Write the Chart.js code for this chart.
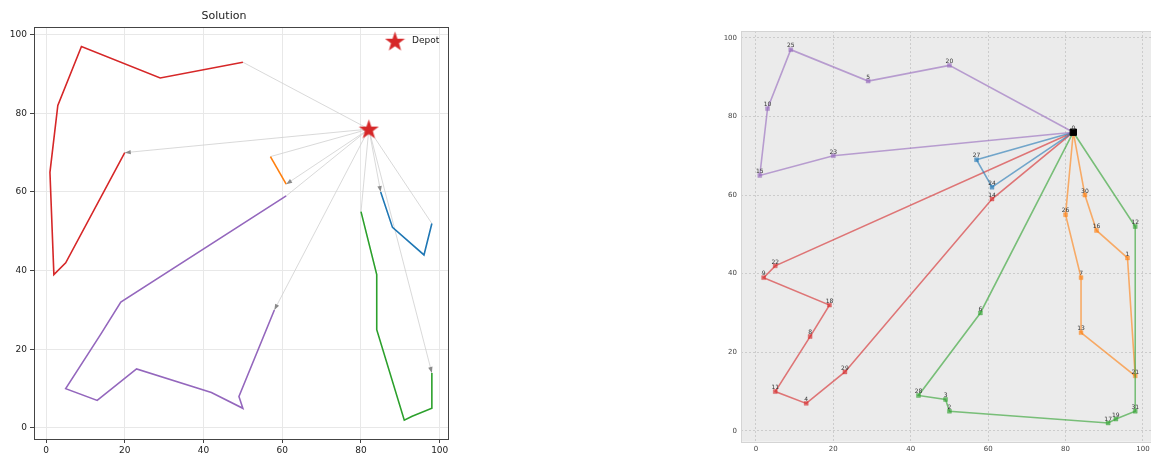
<!DOCTYPE html>
<html>
<head>
<meta charset="utf-8">
<script src="https://cdn.jsdelivr.net/npm/chart.js@4.4.1/dist/chart.umd.min.js"></script>
<style>
html, body { margin: 0; padding: 0; background: #fff; overflow: hidden; width: 1151px; height: 453px; }
#left { position: absolute; left: 0; top: 0; }
#right { position: absolute; left: 700px; top: 0; }
</style>
</head>
<body>
<canvas id="left" width="460" height="453"></canvas>
<canvas id="right" width="470" height="453"></canvas>
<script>
// node coordinates, index = node id (0 is the depot)
const nodeX = [82, 96, 50, 49, 13, 29, 58, 84, 14, 2, 3, 5, 98, 84, 61, 1, 88, 91, 19, 93, 50, 98, 5, 20, 61, 9, 80, 57, 42, 23, 85, 98];
const nodeY = [76, 44, 5, 8, 7, 89, 30, 39, 24, 39, 82, 10, 52, 25, 59, 65, 51, 2, 32, 3, 93, 14, 42, 70, 62, 97, 55, 69, 9, 15, 60, 5];
const depot = 0;

// left plot "Solution" routes (visit order, depot left out)
const solRed = [23, 22, 9, 15, 10, 25, 5, 20];
const solOrange = [24, 27];
const solPurple = [6, 3, 2, 28, 29, 4, 11, 8, 18, 14];
const solGreen = [21, 31, 19, 17, 13, 7, 26];
const solBlue = [30, 16, 1, 12];

// right plot routes
const rtPurple = [20, 5, 25, 10, 15, 23];
const rtBlue = [27, 24];
const rtRed = [22, 9, 18, 8, 11, 4, 29, 14];
const rtGreen = [6, 28, 3, 2, 17, 19, 31, 12];
const rtOrange = [26, 7, 13, 21, 1, 16, 30];

const tickVals = [0, 20, 40, 60, 80, 100];

Chart.defaults.font.family = "'DejaVu Sans', sans-serif";

const pt = id => ({ x: nodeX[id], y: nodeY[id] });

// filled star used as the depot marker
function makeStar(size, color) {
    const c = document.createElement('canvas');
    c.width = size; c.height = size;
    const g = c.getContext('2d');
    const cx = size / 2, cy = size / 2 + 0.8, R = size / 2, r = R * 0.4;
    g.beginPath();
    for (let i = 0; i < 10; i++) {
        const a = -Math.PI / 2 + i * Math.PI / 5;
        const rad = i % 2 === 0 ? R : r;
        g.lineTo(cx + rad * Math.cos(a), cy + rad * Math.sin(a));
    }
    g.closePath();
    g.fillStyle = color;
    g.fill();
    return c;
}
const star = makeStar(21, '#d62728');

// ---------- left chart ----------
const leftRoutes = [
    { nodes: solRed, color: '#d62728' },
    { nodes: solOrange, color: '#ff7f0e' },
    { nodes: solPurple, color: '#9467bd' },
    { nodes: solGreen, color: '#2ca02c' },
    { nodes: solBlue, color: '#1f77b4' },
];

const leftSets = [];
leftRoutes.forEach(r => {
    leftSets.push({
        label: 'link',
        data: [pt(r.nodes[r.nodes.length - 1]), pt(depot), pt(r.nodes[0])],
        borderColor: '#cfcfcf', borderWidth: 0.8, pointRadius: 0, showLine: true, order: 3
    });
    leftSets.push({
        label: 'route',
        data: r.nodes.map(pt),
        borderColor: r.color, borderWidth: 1.6, pointRadius: 0, showLine: true, order: 2
    });
});
leftSets.push({
    label: 'Depot',
    data: [pt(depot)],
    pointStyle: star, pointRadius: 10, showLine: false, order: 1
});

const arrowPlugin = {
    id: 'arrows',
    afterDatasetsDraw(chart) {
        const ctx = chart.ctx, xs = chart.scales.x, ys = chart.scales.y;
        const dx0 = xs.getPixelForValue(nodeX[depot]), dy0 = ys.getPixelForValue(nodeY[depot]);
        ctx.save();
        ctx.fillStyle = '#8a8a8a';
        leftRoutes.forEach(r => {
            const f = r.nodes[0];
            const tx = xs.getPixelForValue(nodeX[f]), ty = ys.getPixelForValue(nodeY[f]);
            const a = Math.atan2(ty - dy0, tx - dx0);
            ctx.beginPath();
            ctx.moveTo(tx, ty);
            ctx.lineTo(tx - 6 * Math.cos(a) + 2.2 * Math.sin(a), ty - 6 * Math.sin(a) - 2.2 * Math.cos(a));
            ctx.lineTo(tx - 6 * Math.cos(a) - 2.2 * Math.sin(a), ty - 6 * Math.sin(a) + 2.2 * Math.cos(a));
            ctx.closePath();
            ctx.fill();
        });
        ctx.restore();
    },
    afterDraw(chart) {
        const a = chart.chartArea, ctx = chart.ctx;
        ctx.save();
        ctx.strokeStyle = '#444';
        ctx.lineWidth = 1;
        ctx.strokeRect(Math.round(a.left) + 0.5, Math.round(a.top) + 0.5, Math.round(a.right - a.left), Math.round(a.bottom - a.top));
        // legend box in the upper right corner
        const sx = a.right - 53, sy = a.top + 14;
        ctx.drawImage(star, sx - star.width / 2, sy - star.height / 2);
        ctx.fillStyle = '#222';
        ctx.font = "9px 'DejaVu Sans'";
        ctx.textAlign = 'left';
        ctx.textBaseline = 'middle';
        ctx.fillText('Depot', sx + 17, sy - 1);
        ctx.restore();
    }
};

new Chart(document.getElementById('left'), {
    type: 'scatter',
    data: { datasets: leftSets },
    options: {
        responsive: false,
        animation: false,
        layout: { padding: { left: 0, right: 12, top: 0, bottom: 0 } },
        plugins: {
            tooltip: { enabled: false },
            legend: { display: false },
            title: {
                display: true, text: 'Solution', color: '#222',
                font: { size: 11, weight: 'normal' },
                padding: { top: 10, bottom: 4 }
            }
        },
        scales: {
            x: {
                type: 'linear', min: -3.05, max: 102.1,
                afterFit: s => { s.height = 14; },
                afterBuildTicks: s => { s.ticks = tickVals.map(v => ({ value: v })); },
                ticks: { font: { size: 9 }, color: '#222', padding: 2, maxRotation: 0 },
                grid: { color: '#e8e8e8', tickColor: '#444', tickLength: 4 },
                border: { display: false }
            },
            y: {
                type: 'linear', min: -2.8, max: 101.9,
                afterFit: s => { s.width = 34; },
                afterBuildTicks: s => { s.ticks = tickVals.map(v => ({ value: v })); },
                ticks: { font: { size: 9 }, color: '#222', padding: 3 },
                grid: { color: '#e8e8e8', tickColor: '#444', tickLength: 4 },
                border: { display: false }
            }
        }
    },
    plugins: [arrowPlugin]
});

// ---------- right chart ----------
const rightRoutes = [
    { nodes: rtPurple, color: 'rgba(148,103,189,0.6)' },
    { nodes: rtBlue, color: 'rgba(31,119,180,0.6)' },
    { nodes: rtRed, color: 'rgba(214,39,40,0.6)' },
    { nodes: rtGreen, color: 'rgba(44,160,44,0.6)' },
    { nodes: rtOrange, color: 'rgba(255,127,14,0.6)' },
];

const rightSets = rightRoutes.map(r => {
    const ids = [depot].concat(r.nodes, [depot]);
    return {
        data: ids.map(pt),
        borderColor: r.color, borderWidth: 1.6, showLine: true,
        pointStyle: 'rect',
        pointRadius: ids.map(id => id === depot ? 0 : 2.8),
        pointBackgroundColor: r.color, pointBorderColor: r.color, pointBorderWidth: 0.5,
        order: 2
    };
});
rightSets.push({
    data: [pt(depot)],
    pointStyle: 'rect', pointRadius: 4.5,
    pointBackgroundColor: '#000', pointBorderColor: '#000', showLine: false, order: 1
});

const rightPlugin = {
    id: 'nodeLabels',
    beforeDraw(chart) {
        const a = chart.chartArea, ctx = chart.ctx;
        ctx.save();
        ctx.fillStyle = '#ebebeb';
        ctx.fillRect(a.left, a.top, a.right - a.left, a.bottom - a.top);
        ctx.restore();
    },
    afterDatasetsDraw(chart) {
        const ctx = chart.ctx, xs = chart.scales.x, ys = chart.scales.y;
        ctx.save();
        ctx.fillStyle = '#333';
        ctx.font = "6px 'DejaVu Sans'";
        ctx.textAlign = 'center';
        ctx.textBaseline = 'middle';
        nodeX.forEach((x, id) => {
            ctx.fillText(String(id), xs.getPixelForValue(x), ys.getPixelForValue(nodeY[id]) - 3.8);
        });
        ctx.restore();
    },
    afterDraw(chart) {
        const a = chart.chartArea, ctx = chart.ctx;
        ctx.save();
        ctx.strokeStyle = '#d4d4d4';
        ctx.lineWidth = 1;
        ctx.strokeRect(Math.round(a.left) + 0.5, Math.round(a.top) + 0.5, Math.round(a.right - a.left), Math.round(a.bottom - a.top));
        ctx.restore();
    }
};

new Chart(document.getElementById('right'), {
    type: 'scatter',
    data: { datasets: rightSets },
    options: {
        responsive: false,
        animation: false,
        layout: { padding: { left: 0, right: 16, top: 31, bottom: 0 } },
        plugins: { tooltip: { enabled: false }, legend: { display: false } },
        scales: {
            x: {
                type: 'linear', min: -3.85, max: 102.85,
                afterFit: s => { s.height = 11.3; },
                afterBuildTicks: s => { s.ticks = tickVals.map(v => ({ value: v })); },
                ticks: { font: { size: 7 }, color: '#444', padding: 3, maxRotation: 0 },
                grid: { color: '#cccccc', drawTicks: false },
                border: { display: false, dash: [2, 2] }
            },
            y: {
                type: 'linear', min: -2.75, max: 101.75,
                afterFit: s => { s.width = 41; },
                afterBuildTicks: s => { s.ticks = tickVals.map(v => ({ value: v })); },
                ticks: { font: { size: 7 }, color: '#444', padding: 4 },
                grid: { color: '#cccccc', drawTicks: false },
                border: { display: false, dash: [2, 2] }
            }
        }
    },
    plugins: [rightPlugin]
});
</script>
</body>
</html>
